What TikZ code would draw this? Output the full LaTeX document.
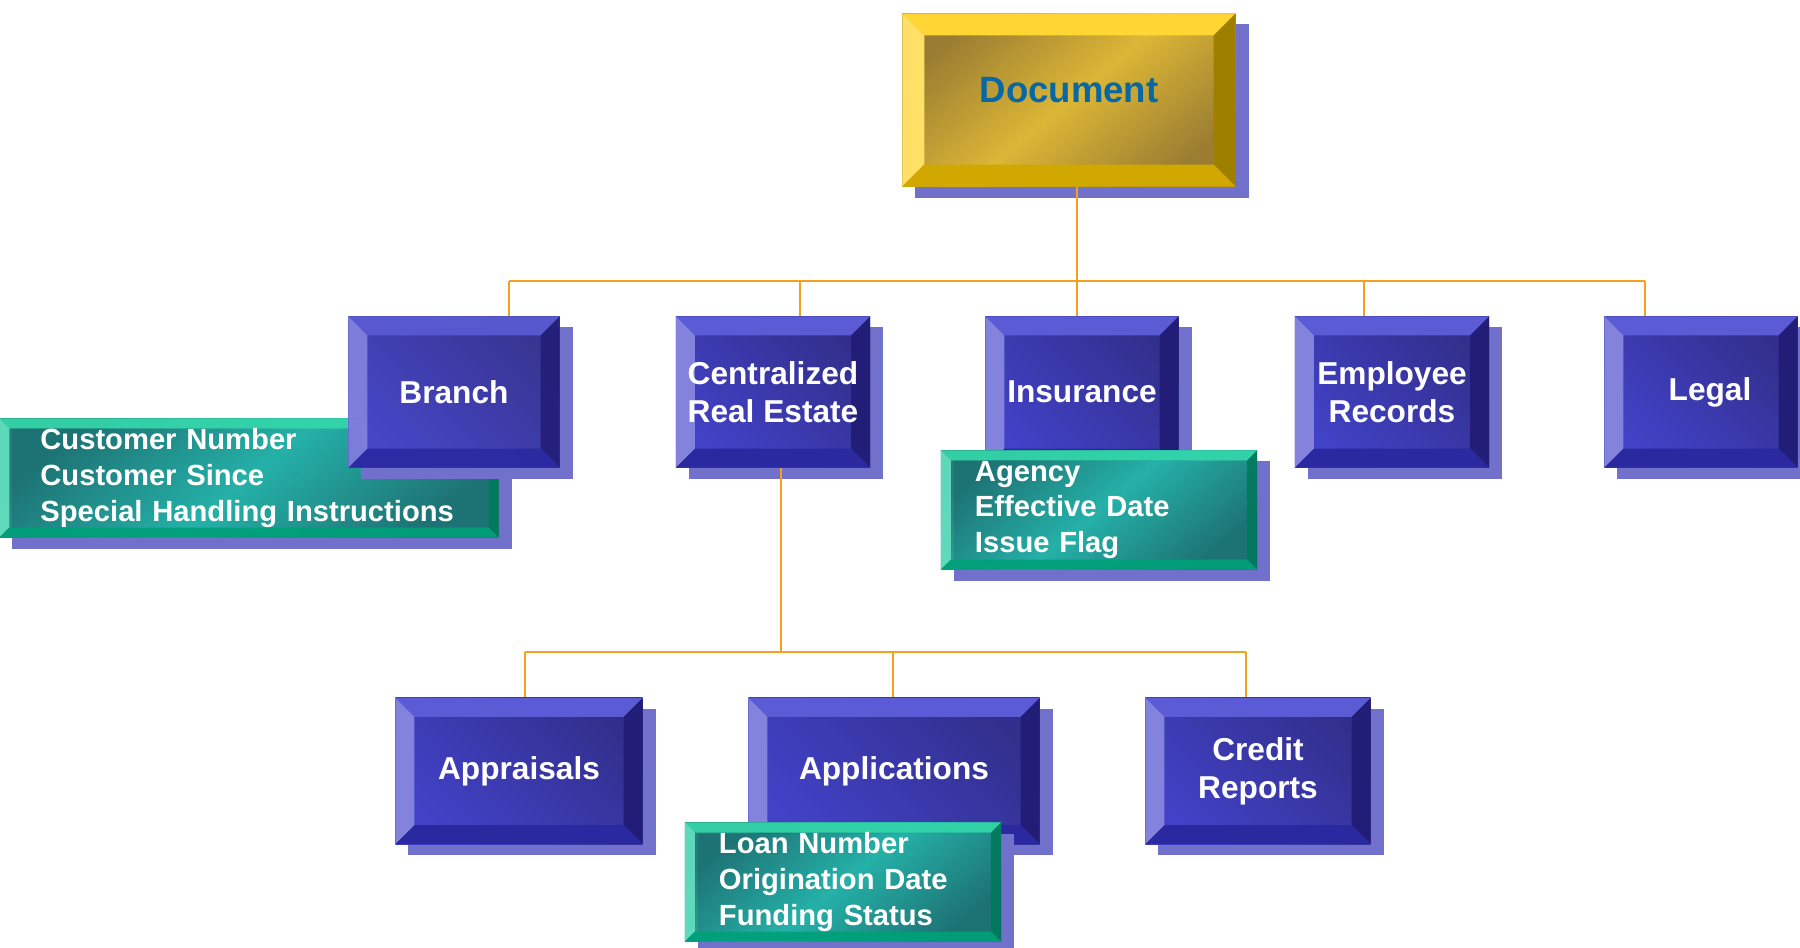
\documentclass[tikz,border=0pt]{standalone}
\usepackage{fontspec}
\setmainfont{Liberation Sans}
\usetikzlibrary{shadows}

\definecolor{lineOrange}{HTML}{F5A01E}
\definecolor{boxShadow}{HTML}{7171CC}
\definecolor{blueTop}{HTML}{5B5BD5}
\definecolor{blueLeft}{HTML}{8383DE}
\definecolor{blueRight}{HTML}{221E78}
\definecolor{blueBottom}{HTML}{2A29A0}
\definecolor{blueFaceA}{HTML}{322F8C}
\definecolor{blueFaceB}{HTML}{4242C8}
\definecolor{goldTop}{HTML}{FFD633}
\definecolor{goldLeft}{HTML}{FFE066}
\definecolor{goldRight}{HTML}{9F7F00}
\definecolor{goldBottom}{HTML}{D0A800}
\definecolor{goldFaceA}{HTML}{9A7D32}
\definecolor{goldFaceB}{HTML}{DCB636}
\definecolor{docBlue}{HTML}{0868A4}
\definecolor{tealTop}{HTML}{33D6AA}
\definecolor{tealLeft}{HTML}{62E0C0}
\definecolor{tealRight}{HTML}{007A5E}
\definecolor{tealBottom}{HTML}{00A07A}
\definecolor{tealFaceA}{HTML}{17746E}
\definecolor{tealFaceB}{HTML}{20B6A6}

\tikzset{
  bevel/.style n args={5}{path picture={
    \path (path picture bounding box.north west) coordinate (bNW)
          (path picture bounding box.north east) coordinate (bNE)
          (path picture bounding box.south east) coordinate (bSE)
          (path picture bounding box.south west) coordinate (bSW);
    \fill[#1] (bNW) -- (bNE) -- ([shift={(-#5,-#5)}]bNE) -- ([shift={(#5,-#5)}]bNW) -- cycle;
    \fill[#2] (bNW) -- ([shift={(#5,-#5)}]bNW) -- ([shift={(#5,#5)}]bSW) -- (bSW) -- cycle;
    \fill[#3] (bNE) -- (bSE) -- ([shift={(-#5,#5)}]bSE) -- ([shift={(-#5,-#5)}]bNE) -- cycle;
    \fill[#4] (bSW) -- ([shift={(#5,#5)}]bSW) -- ([shift={(-#5,#5)}]bSE) -- (bSE) -- cycle;
  }},
  dropped/.style={drop shadow={shadow xshift=0.13cm, shadow yshift=-0.11cm, fill=boxShadow, opacity=1}},
  tile/.style={dropped, top color=blueFaceA, bottom color=blueFaceB, shading angle=-45,
    inner sep=0pt, align=center, text=white, font=\bfseries\fontsize{9}{10.8}\selectfont,
    bevel={blueTop}{blueLeft}{blueRight}{blueBottom}{0.19cm}},
  headtile/.style={dropped, top color=goldFaceA, bottom color=goldFaceA, middle color=goldFaceB,
    shading angle=40, inner sep=0pt, text depth=0.21cm, text=docBlue,
    font=\bfseries\fontsize{10.4}{12}\selectfont,
    bevel={goldTop}{goldLeft}{goldRight}{goldBottom}{0.22cm}},
  note/.style={dropped, top color=tealFaceA, bottom color=tealFaceA, middle color=tealFaceB,
    shading angle=40, fill opacity=0.93, text opacity=1, inner xsep=0.34cm, inner ysep=0pt,
    minimum height=1.19cm, align=left, text=white, font=\bfseries\fontsize{8.3}{10.1}\selectfont,
    bevel={tealTop}{tealLeft}{tealRight}{tealBottom}{0.1cm}},
  link/.style={lineOrange, line width=0.8pt},
}

\begin{document}
\begin{tikzpicture}[x=0.01cm, y=-0.01cm]
\useasboundingbox (0,0) rectangle (1800,947);

% top
\node[headtile, minimum width=3.33cm, minimum height=1.73cm] (doc) at (1069,100) {Document};

% first row
\node[note, text width=4.17cm, inner xsep=0.41cm] (brn) at (249,478)
  {Customer Number\\Customer Since\\Special Handling Instructions};
\node[tile, fill opacity=0.9, text opacity=1, minimum width=2.11cm, minimum height=1.51cm] (br) at (454,392) {Branch};
\node[tile, minimum width=1.94cm, minimum height=1.51cm] (cre) at (773,392) {Centralized\\Real Estate};
\node[tile, minimum width=1.93cm, minimum height=1.51cm] (ins) at (1082,392) {Insurance};
\node[note, text width=2.48cm] (insn) at (1099,510) {Agency\\Effective Date\\Issue Flag};
\node[tile, minimum width=1.94cm, minimum height=1.51cm] (emp) at (1392,392) {Employee\\Records};
\node[tile, minimum width=1.93cm, minimum height=1.51cm] (leg) at (1701,392) {\hspace*{0.18cm}Legal};

% second row
\node[tile, minimum width=2.47cm, minimum height=1.46cm] (app) at (519,771) {Appraisals};
\node[tile, minimum width=2.91cm, minimum height=1.46cm] (apl) at (894,771) {Applications};
\node[note, text width=2.48cm] (apln) at (843,882) {Loan Number\\Origination Date\\Funding Status};
\node[tile, minimum width=2.25cm, minimum height=1.46cm] (cr) at (1258,771) {Credit\\Reports};

% connectors
\coordinate (busL) at (509,281);
\coordinate (busR) at (1645,281);
\draw[link] (doc.south -| 1077,0) -- (1077,281);
\draw[link] (busL) -- (busR);
\foreach \n/\x in {br/509, cre/800, ins/1077, emp/1364, leg/1645}
  \draw[link] (\x,281) -- (\n.north -| \x,0);

\coordinate (subL) at (525,652);
\coordinate (subR) at (1246,652);
\draw[link] (cre.south -| 781,0) -- (781,652);
\draw[link] (subL) -- (subR);
\foreach \n/\x in {app/525, apl/893, cr/1246}
  \draw[link] (\x,652) -- (\n.north -| \x,0);
\end{tikzpicture}
\end{document}
